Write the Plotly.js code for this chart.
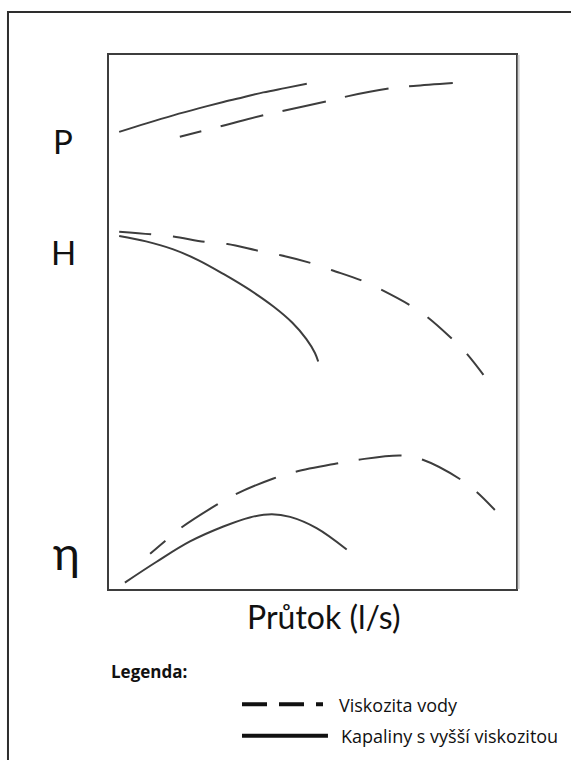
<!DOCTYPE html>
<html>
<head>
<meta charset="utf-8">
<script src="https://cdn.plot.ly/plotly-3.0.1.min.js"></script>
<style>
  html, body { margin: 0; padding: 0; background: #ffffff; }
  #chart { width: 571px; height: 760px; }
</style>
</head>
<body>
<div id="chart"></div>
<script>
// Pump characteristic curves: power P, head H and efficiency η versus flow,
// for water (dashed) and for a more viscous liquid (solid).

// Power P
const powerWaterX   = [17.4, 27.7, 38.3, 43.2, 53.9, 58.8, 69.5, 74.8, 85.4];
const powerWaterY   = [84.7, 86.7, 88.8, 89.6, 91.4, 92.3, 93.8, 94.2, 94.8];
const powerViscousX = [2.5, 9.2, 15.8, 22.0, 28.1, 33.0, 37.9, 43.2, 48.6];
const powerViscousY = [85.6, 87.2, 88.7, 90.0, 91.2, 92.1, 93.0, 93.8, 94.6];

// Head H
const headWaterX   = [2.5, 10.5, 15.8, 23.6, 29.1, 36.9, 42.2, 49.8, 54.8, 62.3, 67.0, 73.8, 78.1, 83.8, 87.5, 92.0];
const headWaterY   = [66.9, 66.4, 66.0, 65.0, 64.6, 63.3, 62.5, 61.0, 59.7, 57.7, 56.0, 53.2, 51.0, 47.2, 44.4, 40.1];
const headViscousX = [2.5, 9.1, 15.8, 21.9, 28.1, 34.6, 40.4, 45.0, 48.5, 50.6, 51.4];
const headViscousY = [66.1, 65.1, 63.6, 61.6, 59.0, 56.0, 52.9, 49.9, 46.8, 44.2, 42.6];

// Efficiency η
const effWaterX   = [10.1, 13.8, 17.6, 26.3, 30.7, 40.4, 45.5, 55.9, 61.2, 71.9, 77.1, 86.2, 90.3, 94.8];
const effWaterY   = [6.6, 9.0, 11.4, 15.7, 17.6, 20.7, 21.9, 23.5, 24.2, 25.0, 24.2, 20.6, 18.2, 14.8];
const effViscousX = [3.9, 11.7, 19.9, 28.1, 34.6, 40.0, 44.5, 51.0, 58.4];
const effViscousY = [1.2, 5.1, 8.9, 11.7, 13.4, 14.0, 13.5, 11.4, 7.4];

// Quantity labels on the left and where they sit on the value scale
const quantityLabels = ['P', 'H', 'η'];
const quantityLevels = [83.9, 63.1, 6.9];
const quantitySizes  = [33, 33, 46];

const xTitle = 'Průtok (l/s)';
const legendTitle = 'Legenda:';
const legendNames = ['Viskozita vody', 'Kapaliny s vyšší viskozitou'];

const curveColor = '#3d3d3d';
const font = 'Lato, "Open Sans", "DejaVu Sans", sans-serif';
const legendFont = '"Open Sans", Lato, "DejaVu Sans", sans-serif';

function curve(x, y, dash) {
  return {
    x: x, y: y, type: 'scatter', mode: 'lines',
    line: { color: curveColor, width: 2, dash: dash, shape: 'spline', smoothing: 1 },
    hoverinfo: 'skip', showlegend: false
  };
}

const traces = [
  curve(powerViscousX, powerViscousY, 'solid'),
  curve(powerWaterX, powerWaterY, '22px,20px,44px,20px,44px,20px,44px,21px,44px,20px'),
  curve(headViscousX, headViscousY, 'solid'),
  curve(headWaterX, headWaterY, '32px,22px'),
  curve(effViscousX, effViscousY, 'solid'),
  curve(effWaterX, effWaterY, '20px,21px,43px,21px,43px,21px,43px,21px,43px,21px,43px,21px,43px,21px')
];

const annotations = quantityLabels.map((t, i) => ({
  text: t, xref: 'paper', yref: 'y', x: i === 2 ? -0.104 : -0.113, y: quantityLevels[i],
  xanchor: 'center', yanchor: 'middle', showarrow: false,
  font: { family: font, size: quantitySizes[i], color: '#111111' }
}));

annotations.push(
  { text: xTitle, xref: 'paper', yref: 'paper', x: 0.526, y: -0.0506,
    xanchor: 'center', yanchor: 'middle', showarrow: false,
    font: { family: font, size: 32, color: '#111111' } },
  { text: '<b>' + legendTitle + '</b>', xref: 'paper', yref: 'paper', x: 0.0, y: -0.1554,
    xanchor: 'left', yanchor: 'middle', showarrow: false,
    font: { family: legendFont, size: 17, color: '#111111' } },
  { text: legendNames[0], xref: 'paper', yref: 'paper', x: 0.561, y: -0.2163,
    xanchor: 'left', yanchor: 'middle', showarrow: false,
    font: { family: legendFont, size: 18, color: '#111111' } },
  { text: legendNames[1], xref: 'paper', yref: 'paper', x: 0.566, y: -0.2753,
    xanchor: 'left', yanchor: 'middle', showarrow: false,
    font: { family: legendFont, size: 18, color: '#111111' } }
);

const shapes = [
  // page frame (left and top edges)
  { type: 'path', xref: 'paper', yref: 'paper',
    path: 'M -0.2482 -0.33 L -0.2482 1.0805 L 1.15 1.0805',
    line: { color: '#2e2e2e', width: 2 } },
  // faint shadow along the right edge of the plot box
  { type: 'line', xref: 'paper', yref: 'paper', x0: 1.0065, x1: 1.0065, y0: 0.0, y1: 1.0,
    line: { color: '#cfcfcf', width: 2 } },
  // legend keys
  { type: 'line', xref: 'paper', yref: 'paper', x0: 0.3268, x1: 0.5258, y0: -0.2159, y1: -0.2159,
    line: { color: '#111111', width: 4, dash: '25px,12px' } },
  { type: 'line', xref: 'paper', yref: 'paper', x0: 0.3268, x1: 0.538, y0: -0.2747, y1: -0.2747,
    line: { color: '#111111', width: 4 } }
];

const axisCommon = {
  range: [0, 100], showgrid: false, zeroline: false, showticklabels: false,
  ticks: '', showline: true, mirror: true, linecolor: '#3d3d3d', linewidth: 2,
  fixedrange: true
};

const layout = {
  width: 571, height: 760,
  margin: { l: 109, r: 55, t: 55, b: 171, pad: 0 },
  paper_bgcolor: '#ffffff', plot_bgcolor: '#ffffff',
  xaxis: Object.assign({}, axisCommon),
  yaxis: Object.assign({}, axisCommon),
  annotations: annotations,
  shapes: shapes,
  showlegend: false
};

Plotly.newPlot('chart', traces, layout, { staticPlot: true, displayModeBar: false });
</script>
</body>
</html>
